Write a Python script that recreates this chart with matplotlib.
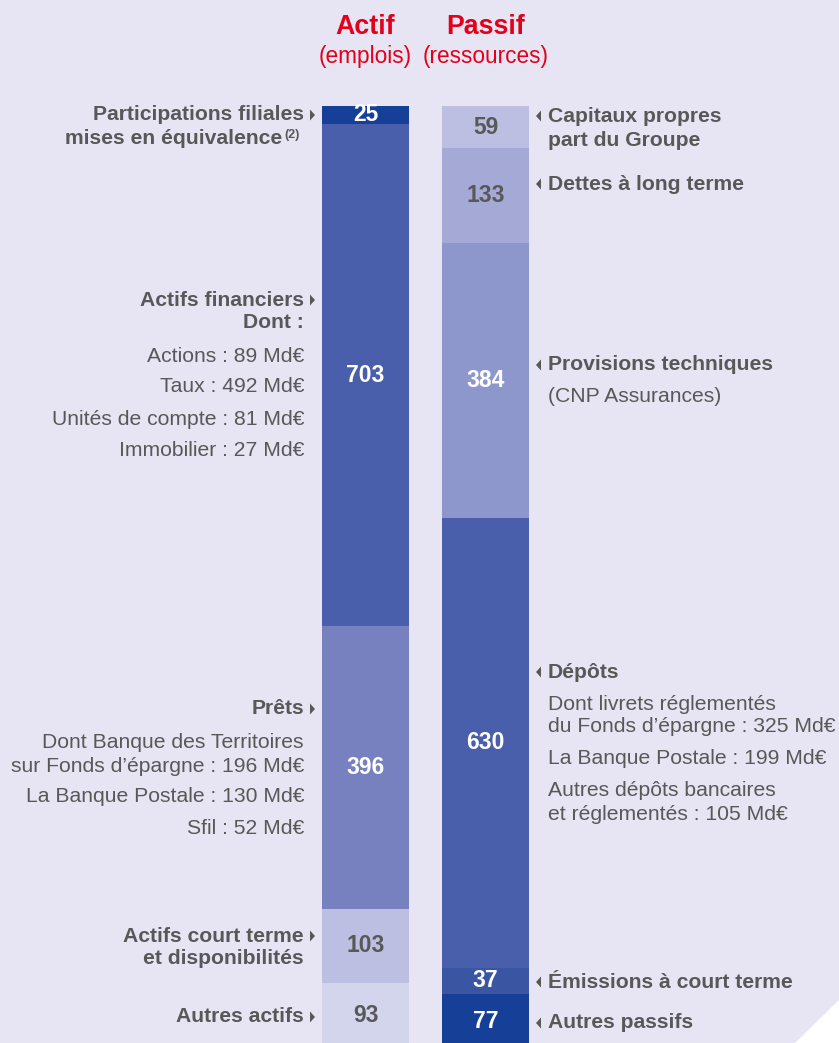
import numpy as np
import matplotlib
matplotlib.use("Agg")
import matplotlib.pyplot as plt
from matplotlib.patches import Polygon

# --- Données ---
actif_values = [25, 703, 396, 103, 93]
actif_colors = ["#163f97", "#4a5fab", "#7781c0", "#bdbfe2", "#d3d5ec"]
actif_text_colors = ["white", "white", "white", "#585858", "#585858"]

passif_values = [59, 133, 384, 630, 37, 77]
passif_colors = ["#bcbfe2", "#a5a9d6", "#8d97cc", "#4a5fab", "#3a55a2", "#163f97"]
passif_text_colors = ["#585858", "#585858", "white", "white", "white", "white"]

# (texte, y en pixels, gras, flèche)
actif_labels = [
    ("Participations filiales", 115, True, True),
    ("Actifs financiers", 300, True, True),
    ("Dont :", 323, True, False),
    ("Actions : 89 Md€", 356, False, False),
    ("Taux : 492 Md€", 387, False, False),
    ("Unités de compte : 81 Md€", 419, False, False),
    ("Immobilier : 27 Md€", 451, False, False),
    ("Prêts", 709, True, True),
    ("Dont Banque des Territoires", 743, False, False),
    ("sur Fonds d’épargne : 196 Md€", 766, False, False),
    ("La Banque Postale : 130 Md€", 797, False, False),
    ("Sfil : 52 Md€", 828, False, False),
    ("Actifs court terme", 936, True, True),
    ("et disponibilités", 959, True, False),
    ("Autres actifs", 1017, True, True),
]

passif_labels = [
    ("Capitaux propres", 116, True, True),
    ("part du Groupe", 140, True, False),
    ("Dettes à long terme", 184, True, True),
    ("Provisions techniques", 365, True, True),
    ("(CNP Assurances)", 397, False, False),
    ("Dépôts", 672, True, True),
    ("Dont livrets réglementés", 704, False, False),
    ("du Fonds d’épargne : 325 Md€", 727, False, False),
    ("La Banque Postale : 199 Md€", 759, False, False),
    ("Autres dépôts bancaires", 791, False, False),
    ("et réglementés : 105 Md€", 814, False, False),
    ("Émissions à court terme", 982, True, True),
    ("Autres passifs", 1023, True, True),
]

# --- Mise en page ---
W, H = 839, 1043
BG = "#e7e5f3"
GREY = "#585858"
RED = "#e2001a"
TOP_PX = 106
SCALE = 0.7145  # pixels par Md€
FS = 15.2

plt.rcParams['font.family'] = ['Liberation Sans', 'DejaVu Sans']

fig = plt.figure(figsize=(W / 100, H / 100), dpi=100)
fig.patch.set_facecolor(BG)
ax = fig.add_axes([0, 0, 1, 1])
ax.set_facecolor(BG)
ax.set_xlim(0, W)
ax.set_ylim((H - TOP_PX) / SCALE, -TOP_PX / SCALE)
ax.axis("off")


def px(x, y):
    return x / W, 1 - y / H


def stacked(xc, values, colors, tcolors):
    bottoms = np.concatenate([[0], np.cumsum(values)[:-1]])
    ax.bar([xc] * len(values), values, bottom=bottoms, width=87,
           color=colors, linewidth=0)
    for v, b, tc in zip(values, bottoms, tcolors):
        ax.text(xc, b + v / 2, str(v), ha="center", va="center",
                fontsize=16.5, fontweight="bold", color=tc)


stacked(365.5, actif_values, actif_colors, actif_text_colors)
stacked(485.5, passif_values, passif_colors, passif_text_colors)

# titres
for xc, t1, t2 in [(365.5, "Actif", "(emplois)"), (485.5, "Passif", "(ressources)")]:
    fig.text(*px(xc, 27), t1, ha="center", va="center", fontsize=19.3,
             fontweight="bold", color=RED)
    fig.text(*px(xc, 56), t2, ha="center", va="center", fontsize=16.3,
             color=RED)


def arrow(x, y, direction):
    # petit triangle plein, pointe vers la barre
    pts = [px(x, y - 5.5), px(x + 5 * direction, y), px(x, y + 5.5)]
    fig.patches.append(Polygon(pts, closed=True, facecolor=GREY,
                               edgecolor="none", transform=fig.transFigure))


# libellés gauche
for txt, y, bold, arr in actif_labels:
    fig.text(*px(304, y), txt, ha="right", va="center", fontsize=FS,
             fontweight="bold" if bold else "normal", color=GREY)
    if arr:
        arrow(310, y, 1)
fig.text(*px(282, 139), "mises en équivalence", ha="right", va="center",
         fontsize=FS, fontweight="bold", color=GREY)
fig.text(*px(284, 135), "(2)", ha="left", va="center", fontsize=9,
         fontweight="bold", color=GREY)

# libellés droite
for txt, y, bold, arr in passif_labels:
    fig.text(*px(548, y), txt, ha="left", va="center", fontsize=FS,
             fontweight="bold" if bold else "normal", color=GREY)
    if arr:
        arrow(541, y, -1)

# coin blanc en bas à droite
fig.patches.append(Polygon([px(795, 1043), px(839, 1000), px(839, 1043)],
                           closed=True, facecolor="white", edgecolor="none",
                           transform=fig.transFigure))

fig.savefig("out.png", dpi=100, facecolor=BG)
